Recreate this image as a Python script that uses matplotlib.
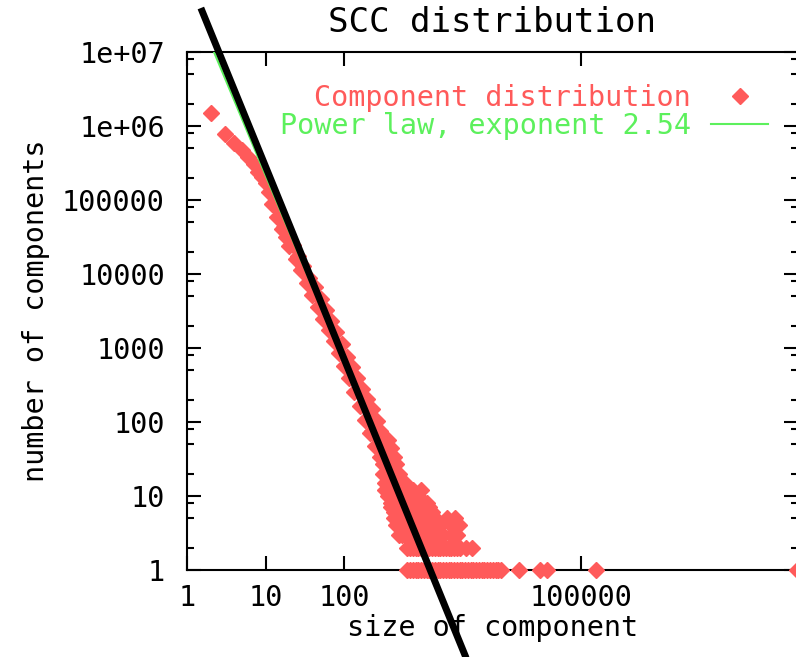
import numpy as np
import matplotlib.pyplot as plt
from matplotlib.ticker import FixedLocator, FixedFormatter, LogLocator, NullLocator, NullFormatter

# SCC size distribution
head_sizes = [2, 3, 4, 5, 6, 7, 8, 9, 10]
head_counts = [1480000, 776000, 589000, 479000, 385000, 306000, 240000, 204000, 170000]

mid_sizes = [11, 12, 13, 14, 15, 16, 17, 18, 19, 20, 22, 24, 26, 28, 30, 33, 36, 39,
             42, 46, 50, 54, 58, 63, 68, 73, 79, 85, 92, 99, 107, 115, 124, 134, 145,
             156, 168, 181, 195, 210, 226, 244, 263]
mid_counts = [129000, 89100, 83200, 58900, 57500, 40700, 42700, 31600, 33900, 24000,
              24500, 15800, 17400, 11200, 12900, 7590, 8910, 5250, 6610, 3550, 4570,
              2450, 3310, 1740, 2290, 1230, 1620, 851, 1120, 575, 759, 398, 562, 251,
              389, 162, 282, 107, 204, 71, 148, 48, 102]

# low-count tail: sizes where a count level is filled solid (index range into
# tail_grid) plus the scattered sizes beyond it
tail_grid = [282, 305, 331, 359, 389, 422, 457, 495, 537, 582, 631, 684, 741, 804,
             871, 944, 1023, 1109, 1202, 1303, 1413, 1531, 1660, 1799, 1950, 2113,
             2291, 2483, 2692, 2917, 3162, 3428, 3715, 4027, 4365, 4732, 5129, 5559,
             6026, 6531, 7079, 7674, 8318, 9016, 9772]
tail_levels = [75, 57, 45, 34, 27, 20, 15, 12, 10, 8, 7, 6, 5, 4, 3, 2, 1]
tail_first = [0, 0, 0, 0, 1, 1, 2, 2, 3, 4, 4, 5, 5, 6, 7, 10, 10]
tail_last = [0, 3, 4, 5, 6, 7, 9, 12, 14, 17, 18, 19, 20, 22, 23, 29, 44]
tail_extra = [[221, 240, 260], [], [], [], [], [], [], [944], [], [], [], [],
              [2018, 2570], [2291, 2818], [2291, 2692], [3548, 4169],
              [16600, 30200, 37200, 158000, 56463993]]

# power law fit (exponent 2.54) and the black line drawn over the plot
fit_x = [2, 2000]
fit_y = [1.278e7, 0.3065]
ref_x = [1.5, 3700]
ref_y = [3.93e7, 0.0569]

xticks = [1, 10, 100, 100000]
yticks = [1, 10, 100, 1000, 10000, 100000, 1e6, 1e7]
ytick_labels = ['1', '10', '100', '1000', '10000', '100000', '1e+06', '1e+07']

sizes = head_sizes + mid_sizes
counts = head_counts + mid_counts
for c, i0, i1, extra in zip(tail_levels, tail_first, tail_last, tail_extra):
    s = tail_grid[i0:i1 + 1] + extra
    sizes += s
    counts += [c] * len(s)

plt.rcParams['font.family'] = 'DejaVu Sans Mono'
plt.rcParams['font.size'] = 20.5

red = '#ff5a5a'
green = '#5cf05c'

fig = plt.figure(figsize=(7.96, 6.57), dpi=100)
ax = fig.add_axes([187/796, 87/657, 611/796, 518/657])

ax.plot(sizes, counts, ls='none', marker='D', ms=8, mfc=red, mec=red, mew=1.0,
        color=red, clip_on=False, zorder=3, label='Component distribution')
ax.plot(fit_x, fit_y, color=green, lw=1.5, zorder=4, label='Power law, exponent 2.54')
ax.plot(ref_x, ref_y, color='black', lw=5, solid_capstyle='butt', clip_on=False, zorder=5)

ax.set_xscale('log')
ax.set_yscale('log')
ax.set_xlim(1, 5.8e7)
ax.set_ylim(1, 1e7)

ax.xaxis.set_major_locator(FixedLocator(xticks))
ax.xaxis.set_major_formatter(FixedFormatter([str(t) for t in xticks]))
ax.xaxis.set_minor_locator(NullLocator())
ax.yaxis.set_major_locator(FixedLocator(yticks))
ax.yaxis.set_major_formatter(FixedFormatter(ytick_labels))
ax.yaxis.set_minor_locator(LogLocator(base=10, subs=(2, 5, 8)))
ax.yaxis.set_minor_formatter(NullFormatter())

ax.tick_params(which='both', direction='in', top=True, right=True, width=1.5, color='black')
ax.tick_params(which='major', length=10)
ax.tick_params(which='minor', length=5)
ax.tick_params(axis='y', pad=16)
ax.tick_params(axis='x', pad=10)
for sp in ax.spines.values():
    sp.set_linewidth(1.5)

ax.set_title('SCC distribution', y=(570-23)/518, va='center', pad=0)
ax.set_xlabel('size of component')
ax.xaxis.label.set_va('center')
ax.xaxis.set_label_coords(0.5, (570-628)/518)
ax.set_ylabel('number of components')
ax.yaxis.label.set_va('center')
ax.yaxis.set_label_coords((36-187)/611, 0.5)

ax.legend(loc='upper right', bbox_to_anchor=(768/796, 1 - 84/657), bbox_transform=fig.transFigure,
          frameon=False, markerfirst=False, labelcolor='linecolor', handlelength=2.0,
          handletextpad=0.7, labelspacing=0.0, borderpad=0, borderaxespad=0, numpoints=1)

fig.savefig('out.png', dpi=100)
